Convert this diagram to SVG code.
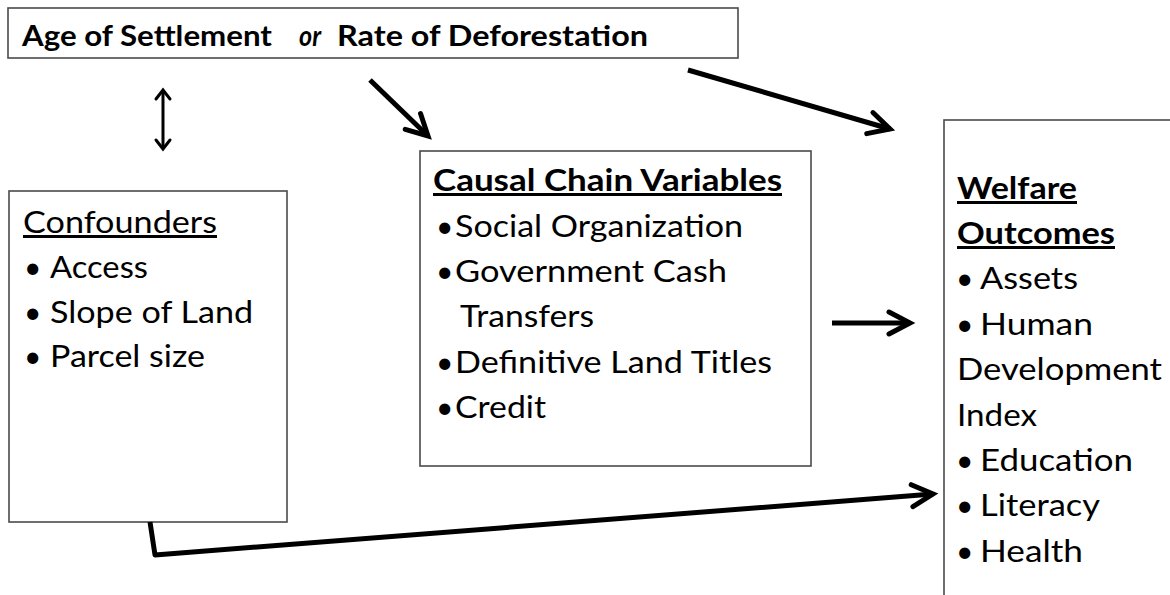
<svg xmlns="http://www.w3.org/2000/svg" width="1170" height="595" viewBox="0 0 1170 595">
<style>
.box{fill:#fff;stroke:#4a4a4a;stroke-width:1.6}
.t{font-family:Lato,"Open Sans","Liberation Sans",sans-serif;font-size:30px;fill:#000}
.b{font-weight:bold}
.u{text-decoration:underline}
.top{font-family:Lato,"Open Sans","Liberation Sans",sans-serif;font-size:28px;font-weight:bold;fill:#000}
.arr{fill:none;stroke:#000;stroke-width:5;stroke-linejoin:round}
.dbl{fill:none;stroke:#000;stroke-width:3}
</style>
<defs>
<marker id="head" markerUnits="userSpaceOnUse" viewBox="-30 -16 36 32" markerWidth="36" markerHeight="32" refX="0" refY="0" orient="auto">
<path d="M-21,-11 L0,0 L-21,11" fill="none" stroke="#000" stroke-width="5" stroke-linecap="round" stroke-linejoin="miter"/>
</marker>
<marker id="small" markerUnits="userSpaceOnUse" viewBox="-14 -10 18 20" markerWidth="18" markerHeight="20" refX="0" refY="0" orient="auto-start-reverse">
<path d="M-9,-7 L0,0 L-9,7" fill="none" stroke="#000" stroke-width="3" stroke-linecap="round"/>
</marker>
</defs>

<g id="settlement">
<rect class="box" x="8" y="8" width="730" height="50"/>
<text class="top" x="22" y="46" textLength="250" lengthAdjust="spacingAndGlyphs">Age of Settlement</text>
<text class="top" x="299" y="46" font-style="italic" textLength="22" lengthAdjust="spacingAndGlyphs">or</text>
<text class="top" x="337" y="46" textLength="311" lengthAdjust="spacingAndGlyphs">Rate of Deforestation</text>
</g>

<g id="confounders">
<rect class="box" x="9" y="191" width="278" height="331"/>
<text class="t u" x="23" y="233" textLength="194" lengthAdjust="spacingAndGlyphs">Confounders</text>
<text class="t" x="24" y="278">•</text>
<text class="t" x="50" y="278" textLength="98" lengthAdjust="spacingAndGlyphs">Access</text>
<text class="t" x="24" y="323">•</text>
<text class="t" x="50" y="323" textLength="203" lengthAdjust="spacingAndGlyphs">Slope of Land</text>
<text class="t" x="24" y="367">•</text>
<text class="t" x="50" y="367" textLength="155" lengthAdjust="spacingAndGlyphs">Parcel size</text>
</g>

<g id="causal">
<rect class="box" x="420" y="151" width="391" height="315"/>
<text class="t b u" x="433" y="191" textLength="349" lengthAdjust="spacingAndGlyphs">Causal Chain Variables</text>
<text class="t" x="436" y="237">•</text>
<text class="t" x="455" y="237" textLength="288" lengthAdjust="spacingAndGlyphs">Social Organization</text>
<text class="t" x="436" y="282">•</text>
<text class="t" x="455" y="282" textLength="272" lengthAdjust="spacingAndGlyphs">Government Cash</text>
<text class="t" x="460" y="327" textLength="134" lengthAdjust="spacingAndGlyphs">Transfers</text>
<text class="t" x="436" y="373">•</text>
<text class="t" x="455" y="373" textLength="317" lengthAdjust="spacingAndGlyphs">Definitive Land Titles</text>
<text class="t" x="436" y="418">•</text>
<text class="t" x="455" y="418" textLength="91" lengthAdjust="spacingAndGlyphs">Credit</text>
</g>

<g id="welfare">
<rect class="box" x="944" y="120" width="260" height="500"/>
<text class="t b u" x="957" y="199" textLength="120" lengthAdjust="spacingAndGlyphs">Welfare</text>
<text class="t b u" x="957" y="244" textLength="158" lengthAdjust="spacingAndGlyphs">Outcomes</text>
<text class="t" x="956" y="289">•</text>
<text class="t" x="980" y="289" textLength="98" lengthAdjust="spacingAndGlyphs">Assets</text>
<text class="t" x="956" y="335">•</text>
<text class="t" x="980" y="335" textLength="113" lengthAdjust="spacingAndGlyphs">Human</text>
<text class="t" x="957" y="380" textLength="205" lengthAdjust="spacingAndGlyphs">Development</text>
<text class="t" x="957" y="426" textLength="80" lengthAdjust="spacingAndGlyphs">Index</text>
<text class="t" x="956" y="471">•</text>
<text class="t" x="980" y="471" textLength="153" lengthAdjust="spacingAndGlyphs">Education</text>
<text class="t" x="956" y="516">•</text>
<text class="t" x="980" y="516" textLength="120" lengthAdjust="spacingAndGlyphs">Literacy</text>
<text class="t" x="956" y="562">•</text>
<text class="t" x="980" y="562" textLength="103" lengthAdjust="spacingAndGlyphs">Health</text>
</g>

<g id="connectors">
<line class="dbl" x1="163" y1="90" x2="163" y2="149" marker-start="url(#small)" marker-end="url(#small)"/>
<line class="arr" x1="370" y1="80" x2="428" y2="136" marker-end="url(#head)"/>
<line class="arr" x1="688" y1="70" x2="890" y2="129" marker-end="url(#head)"/>
<line class="arr" x1="832" y1="323" x2="910" y2="323" marker-end="url(#head)"/>
<polyline class="arr" points="150,522 155,555 933,494" marker-end="url(#head)"/>
</g>
</svg>
